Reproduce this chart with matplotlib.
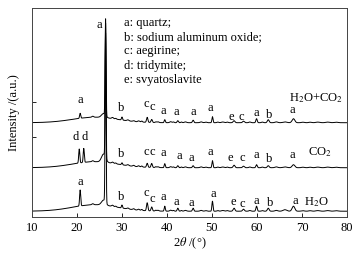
import matplotlib
matplotlib.use("Agg")
import matplotlib.pyplot as plt
import numpy as np

plt.rcParams['font.family'] = ['Liberation Serif', 'DejaVu Serif']
plt.rcParams['mathtext.fontset'] = 'stix'

# peak positions (2theta, deg) and widths (sigma, deg)
pos = [20.7, 21.6, 25.9, 26.35, 30.0, 35.6, 36.6, 39.5, 42.4, 45.8, 50.1,
       54.9, 57.0, 59.9, 62.5, 68.1, 23.5, 27.9, 31.3, 32.6, 33.7, 38.0,
       40.8, 44.1, 47.6, 52.4, 64.3, 66.2, 73.5, 75.7, 77.6, 24.0,
       28.6, 34.4, 37.5, 41.4, 43.2, 48.6, 51.3, 53.4, 58.4, 61.2, 70.2, 71.8]
width = [0.12, 0.12, 0.45, 0.1, 0.12, 0.15, 0.15, 0.12, 0.15, 0.15, 0.12,
         0.2, 0.2, 0.15, 0.2, 0.3, 0.2, 0.2, 0.2, 0.2, 0.2, 0.2,
         0.2, 0.25, 0.25, 0.3, 0.3, 0.4, 0.4, 0.4, 0.4, 5.0,
         0.15, 0.15, 0.15, 0.15, 0.15, 0.2, 0.2, 0.2, 0.2, 0.2, 0.3, 0.3]

# peak heights for each sample (entry 31 = amorphous hump)
h_mix = [5, 0, 4, 97, 3, 5, 3, 3, 2, 2.5, 6,
         2, 1.5, 4, 3, 4, 1, 1.2, 1, 0.8, 1, 0.8,
         1, 0.8, 0.8, 0.7, 0.8, 0.8, 0.6, 0.6, 0.5, 5.5,
         0.8, 1.0, 0.7, 0.8, 0.7, 0.6, 0.6, 0.6, 0.7, 0.6, 0.5, 0.5]
h_co2 = [0, 0, 8, 125, 2, 4, 4, 4, 2, 2, 7,
         2.5, 1.5, 3, 2, 3, 1, 1.2, 1, 1, 1, 0.8,
         1, 0.8, 0.8, 0.7, 0.8, 0.8, 0.6, 0.6, 0.5, 6,
         0.8, 1.0, 0.8, 0.8, 0.7, 0.6, 0.6, 0.6, 0.7, 0.6, 0.5, 0.5]
h_h2o = [16, 0, 5, 180, 3, 8, 4, 5, 3, 3, 10,
         3, 2, 5, 3, 5, 1, 1.2, 1, 1, 1, 0.8,
         1, 0.8, 0.8, 0.7, 0.8, 1.5, 0.6, 0.6, 0.5, 6.5,
         0.8, 1.0, 0.8, 0.8, 0.7, 0.6, 0.6, 0.6, 0.7, 0.6, 0.5, 0.5]
d_peaks = [20.5, 21.5]
d_heights = [14, 14]

offsets = [94.0, 49.0, 5.5]
names = ['H$_2$O+CO$_2$', 'CO$_2$', 'H$_2$O']

legend_lines = ['a: quartz;', 'b: sodium aluminum oxide;', 'c: aegirine;',
                'd: tridymite;', 'e: svyatoslavite']

# phase labels: (letter, 2theta, intensity) per trace
lab_mix = [('a', 20.8, 116.7), ('a', 24.9, 191.7), ('b', 29.9, 108.7), ('c', 35.3, 112.7),
           ('c', 36.8, 109.7), ('a', 39.2, 106.0), ('a', 42.0, 105.0),
           ('a', 45.8, 105.0), ('a', 49.7, 108.7), ('e', 54.2, 99.7),
           ('c', 56.6, 100.0), ('a', 59.9, 103.7), ('b', 62.7, 101.7),
           ('a', 67.9, 106.7)]
lab_co2 = [('d', 19.6, 80.0), ('d', 21.6, 80.0), ('b', 29.9, 62.4), ('c', 35.3, 65.0),
           ('c', 36.8, 64.4), ('a', 39.2, 63.4), ('a', 42.7, 60.7),
           ('a', 45.5, 58.4), ('a', 49.7, 65.0), ('e', 54.0, 58.4),
           ('c', 56.7, 58.4), ('a', 59.9, 61.7), ('b', 62.7, 57.4),
           ('a', 67.9, 61.7)]
lab_h2o = [('a', 20.7, 35.0), ('b', 29.9, 19.4), ('c', 35.4, 24.0), ('c', 36.8, 17.4),
           ('a', 39.2, 20.0), ('a', 42.1, 15.0), ('a', 45.5, 13.4),
           ('a', 50.2, 22.4), ('e', 54.7, 14.4), ('c', 56.7, 12.7),
           ('a', 59.9, 15.7), ('b', 62.9, 14.0), ('a', 68.6, 15.7)]
name_pos = [(73.2, 119.0), (73.9, 65.0), (73.1, 14.4)]

x = np.linspace(10, 80, 3501)


def pattern(heights, extra_pos=(), extra_h=()):
    y = np.zeros_like(x)
    for p, w, hh in zip(pos, width, heights):
        y += hh * np.exp(-(x - p) ** 2 / (2 * w ** 2))
    for p, hh in zip(extra_pos, extra_h):
        y += hh * np.exp(-(x - p) ** 2 / (2 * 0.12 ** 2))
    return y


fig = plt.figure(figsize=(3.61, 2.56), dpi=100)
ax = fig.add_axes([32 / 361, 1 - 216.7 / 256, 315 / 361, 208.7 / 256])

traces = [pattern(h_mix), pattern(h_co2, d_peaks, d_heights), pattern(h_h2o)]
for yy, off in zip(traces, offsets):
    ax.plot(x, yy + off, color='black', lw=0.7)

fs = 9
for labs in (lab_mix, lab_co2, lab_h2o):
    for t, xx, yy in labs:
        ax.text(xx, yy, t, ha='center', va='center', fontsize=fs)

for n, (xx, yy) in zip(names, name_pos):
    ax.text(xx, yy, n, ha='center', va='center', fontsize=fs)

for i, t in enumerate(legend_lines):
    ax.text(30.4, 194.0 - i * 14.3, t, ha='left', va='center', fontsize=fs)

ax.set_xlim(10, 80)
ax.set_ylim(0, 208.7)
ax.set_xticks([10, 20, 30, 40, 50, 60, 70, 80])
ax.set_yticks([80, 115])
ax.set_yticklabels([])
ax.tick_params(direction='in', length=3, width=0.6, labelsize=fs, pad=4)
for s in ax.spines.values():
    s.set_linewidth(0.7)
    s.set_color('#444444')
ax.set_xlabel(r'2$\theta$ /(°)', fontsize=fs, labelpad=1)
ax.set_ylabel('Intensity /(a.u.)', fontsize=fs, labelpad=5)

fig.savefig('out.png', dpi=100)
